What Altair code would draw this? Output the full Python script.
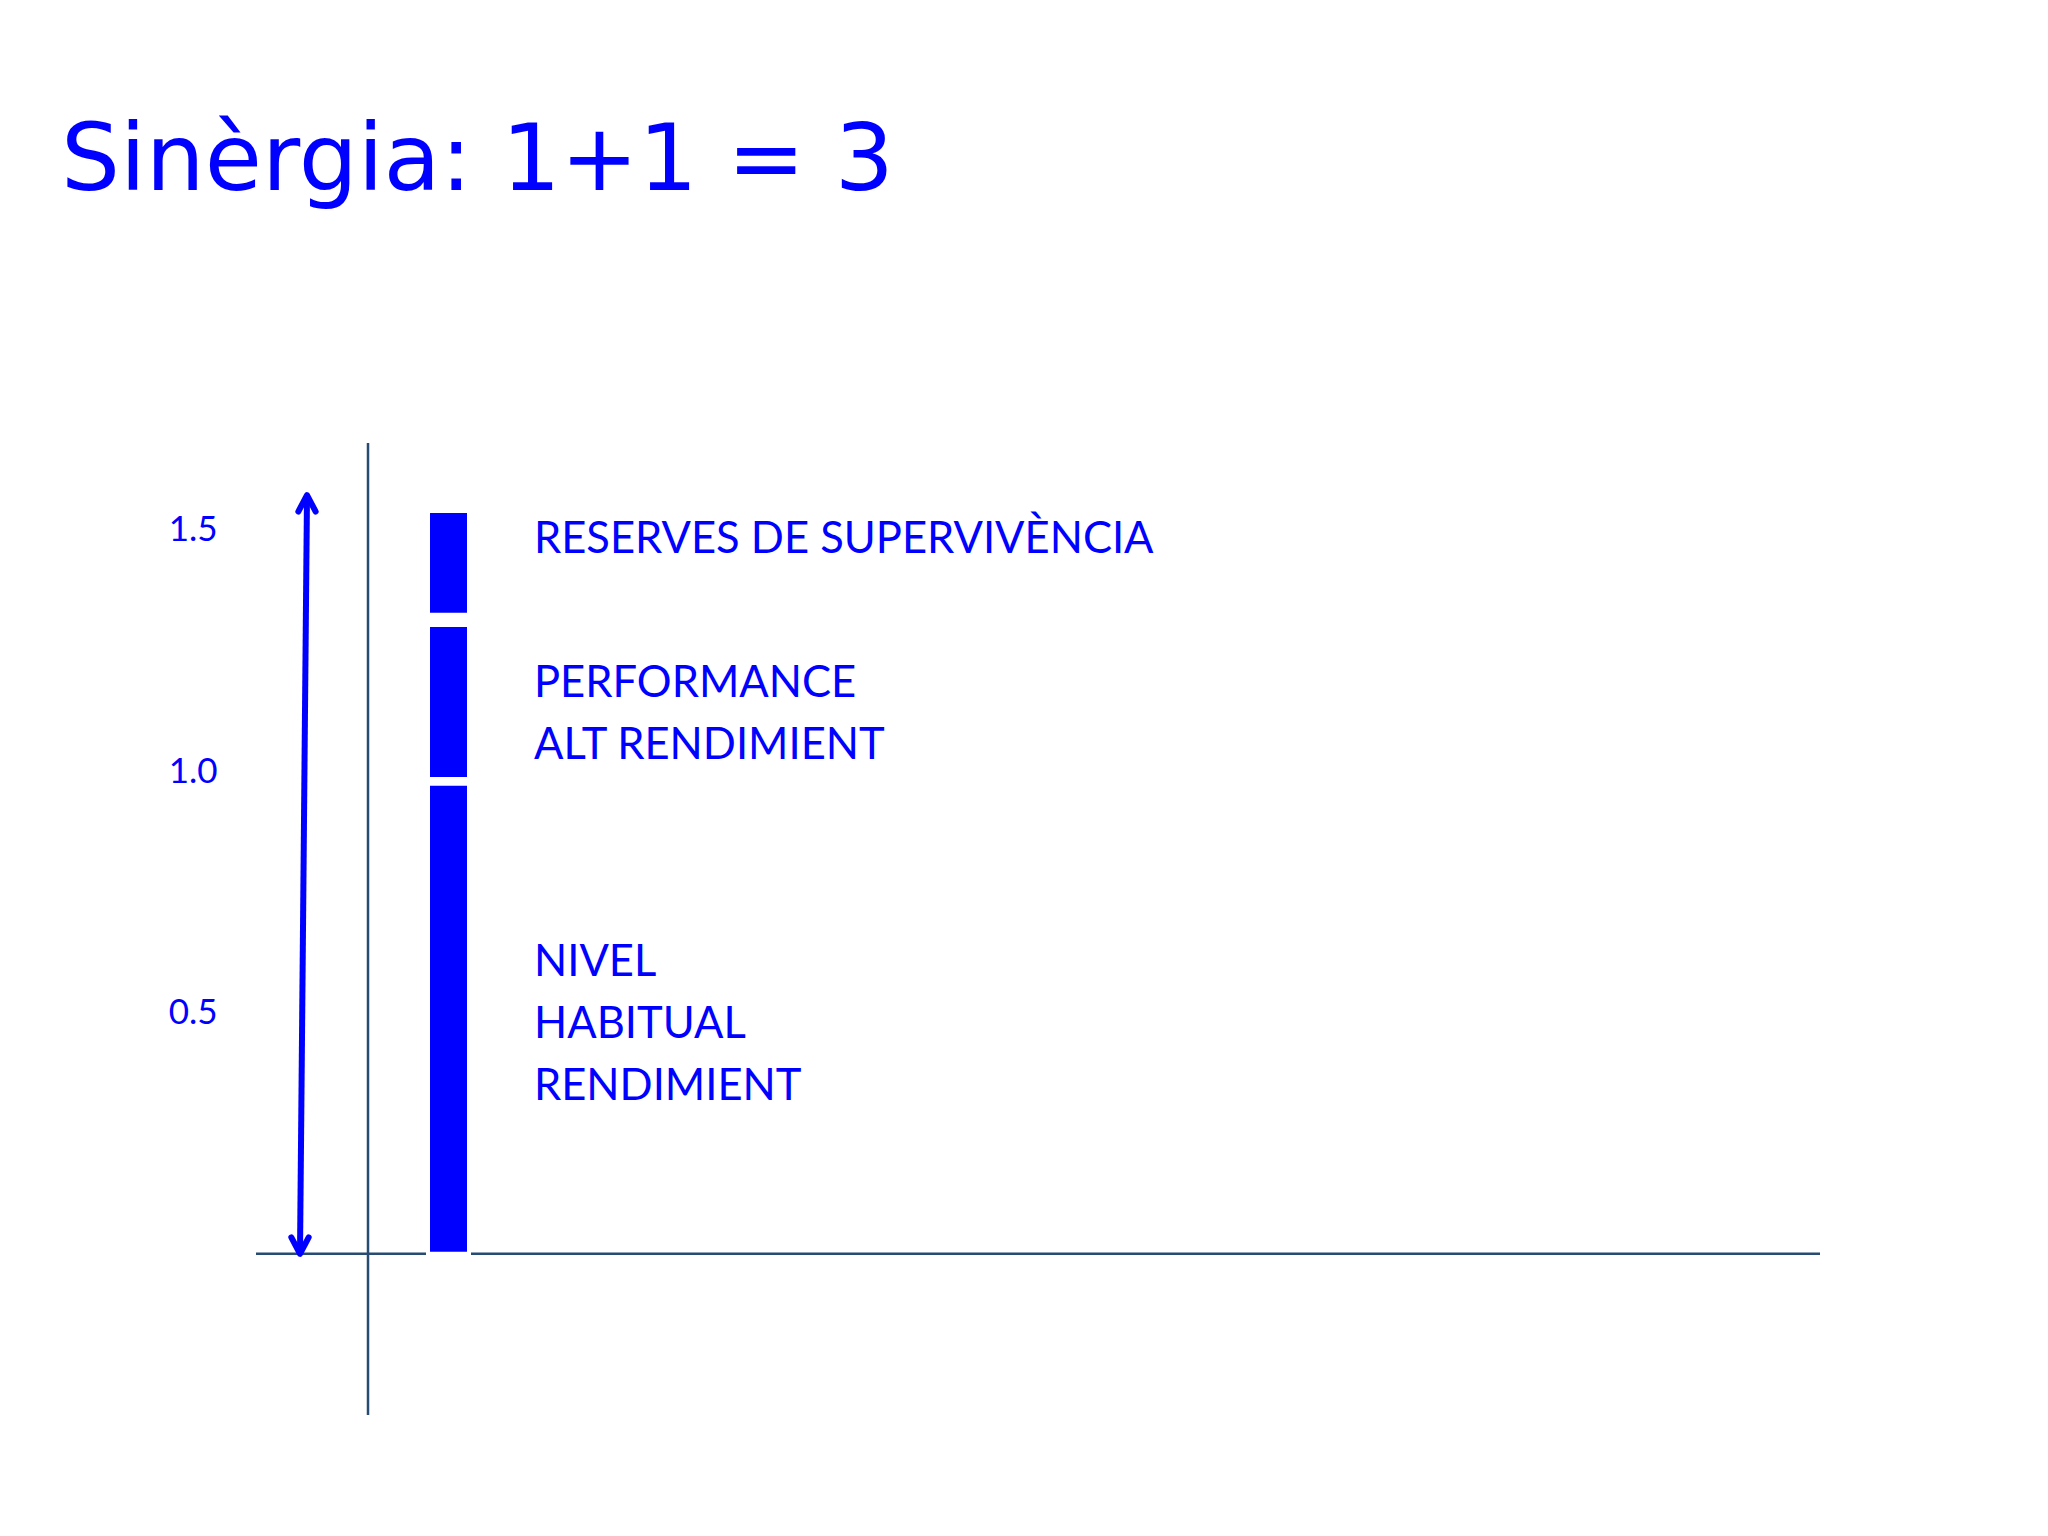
import altair as alt
import pandas as pd

# ---- values ----
title_text = "Sinèrgia: 1+1 = 3"
segment_labels = ["NIVEL\nHABITUAL\nRENDIMIENT", "PERFORMANCE\nALT RENDIMIENT", "RESERVES DE SUPERVIVÈNCIA"]
seg_start = [0.0, 0.984, 1.324]
seg_end = [0.974, 1.303, 1.539]
label_at = [0.603, 1.181, 1.478]
tick_values = [0.5, 1.0, 1.5]
arrow_from = 0.0
arrow_to = 1.572
origin = [0.0]

BLUE = "#0000FF"
AXIS = "#274B73"

seg_df = pd.DataFrame({"label": segment_labels, "start": seg_start, "end": seg_end, "label_at": label_at})
origin_df = pd.DataFrame({"origin": origin})
arrow_df = pd.DataFrame({"y0": [arrow_from], "y1": [arrow_to]})

X = alt.Scale(domain=[-1.12, 14.52], nice=False, zero=False)
Y = alt.Scale(domain=[-0.334, 1.68], nice=False, zero=False)
yaxis = alt.Axis(values=tick_values, format=".1f", domain=False, ticks=False, tickSize=0,
                 grid=False, labelFont="Lato", labelFontSize=35, labelColor=BLUE,
                 labelPadding=39, title=None)

vline = alt.Chart(origin_df).mark_rule(color=AXIS, strokeWidth=2.5).encode(
    x=alt.X("origin:Q", scale=X, axis=None)
)
hline = alt.Chart(origin_df).mark_rule(color=AXIS, strokeWidth=2.5).encode(
    y=alt.Y("origin:Q", scale=Y, axis=yaxis)
)
bars = alt.Chart(seg_df).mark_rect(color=BLUE, stroke="white", strokeWidth=4).encode(
    x=alt.datum(0.60), x2=alt.datum(1.01),
    y=alt.Y("start:Q", scale=Y, axis=yaxis), y2="end:Q"
)
arrow = alt.Chart(arrow_df).mark_rule(color=BLUE, strokeWidth=6).encode(
    x=alt.datum(-0.68), x2=alt.datum(-0.61),
    y=alt.Y("y0:Q", scale=Y, axis=yaxis), y2="y1:Q"
)
chevron = "M-1,1.9L0,0L1,1.9"
head_top = alt.Chart(arrow_df).mark_point(shape=chevron, size=300, filled=False, color=BLUE,
                                         strokeWidth=6, strokeCap="round", strokeJoin="round",
                                         angle=0, opacity=1).encode(
    x=alt.datum(-0.61), y=alt.Y("y1:Q", scale=Y, axis=yaxis)
)
head_bottom = alt.Chart(arrow_df).mark_point(shape=chevron, size=300, filled=False, color=BLUE,
                                            strokeWidth=6, strokeCap="round", strokeJoin="round",
                                            angle=180, opacity=1).encode(
    x=alt.datum(-0.68), y=alt.Y("y0:Q", scale=Y, axis=yaxis)
)
texts = alt.Chart(seg_df).mark_text(align="left", baseline="middle", lineBreak="\n", lineHeight=62,
                                    font="Lato", fontSize=43.5, color=BLUE).encode(
    x=alt.datum(1.66), y=alt.Y("label_at:Q", scale=Y, axis=yaxis), text="label:N"
)

chart = alt.layer(vline, hline, bars, arrow, head_top, head_bottom, texts).properties(
    width=1564, height=972,
    autosize=alt.AutoSizeParams(type="none"),
    padding={"left": 248, "top": 435, "right": 220, "bottom": 113},
    background="white",
    title=alt.TitleParams(text=title_text, anchor="start", frame="group", dx=-195, offset=159,
                          baseline="alphabetic", font="DejaVu Sans", fontSize=93,
                          fontWeight="normal", color=BLUE),
).configure_view(stroke=None)

chart.save("out.html", embed_options={"renderer": "svg", "actions": False})
